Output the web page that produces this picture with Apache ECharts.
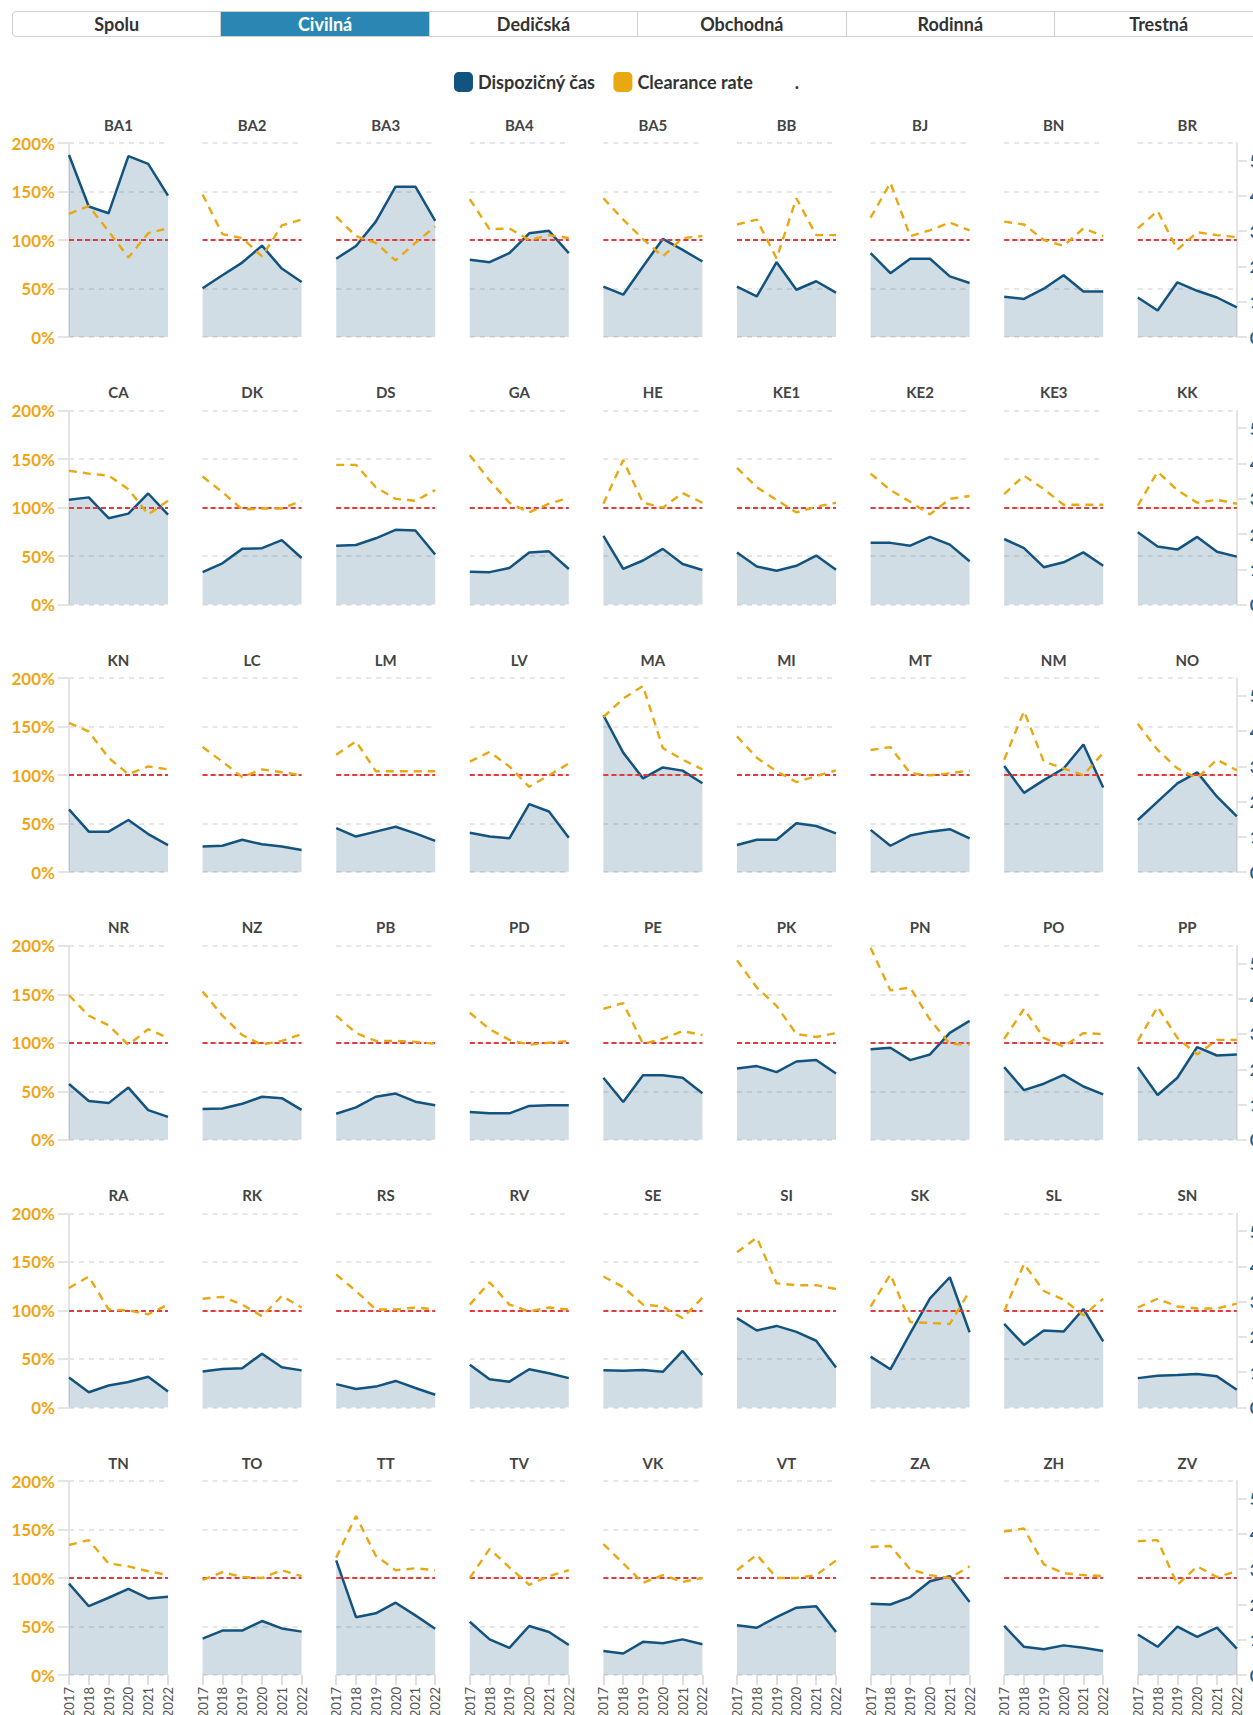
<!DOCTYPE html>
<html><head><meta charset="utf-8">
<script src="https://cdn.jsdelivr.net/npm/echarts@6/dist/echarts.min.js"></script>
<style>
html,body{margin:0;padding:0;background:#fff;overflow:hidden;width:1253px;height:1715px;}
#chart{position:absolute;left:0;top:0;width:1253px;height:1715px;}
#tabs{position:absolute;left:12px;top:11px;height:26px;display:flex;width:1260px;border:1px solid #cfcfcf;border-radius:4px;overflow:hidden;box-sizing:border-box;z-index:2;background:#fff;}
.tab{flex:0 0 auto;width:208.4px;box-sizing:border-box;text-align:center;font:bold 18px Lato,"Noto Sans",sans-serif;color:#333;line-height:24px;border-right:1px solid #cfcfcf;}
.tab.active{background:#2a87b4;color:#fff;}
</style></head>
<body>
<div id="tabs"></div>
<div id="chart"></div>
<script>
const tabs = ['Spolu','Civilná','Dedičská','Obchodná','Rodinná','Trestná'];
const activeTab = 'Civilná';
const years = ['2017','2018','2019','2020','2021','2022'];
const courts = ['BA1','BA2','BA3','BA4','BA5','BB','BJ','BN','BR',
 'CA','DK','DS','GA','HE','KE1','KE2','KE3','KK',
 'KN','LC','LM','LV','MA','MI','MT','NM','NO',
 'NR','NZ','PB','PD','PE','PK','PN','PO','PP',
 'RA','RK','RS','RV','SE','SI','SK','SL','SN',
 'TN','TO','TT','TV','VK','VT','ZA','ZH','ZV'];
// Dispozičný čas (days), one row per court, 2017..2022
const dispTime = [
 [516,370,351,513,491,401],[138,175,211,259,194,156],[222,258,327,426,426,329],[219,212,238,294,301,238],[143,120,200,278,247,214],
 [143,115,212,134,158,126],[238,181,222,222,172,153],[114,108,137,175,129,129],[112,75,155,131,112,84],
 [297,304,245,258,315,255],[92,117,158,160,183,132],[167,169,188,212,210,142],[93,92,104,148,151,101],[195,101,125,158,115,98],
 [148,108,96,110,139,99],[175,175,167,192,170,123],[186,160,106,120,148,110],[205,165,156,192,150,136],
 [178,115,115,148,108,77],[73,75,92,79,73,63],[125,101,115,129,110,89],[112,101,96,193,172,98],[445,339,266,297,288,252],
 [77,92,92,139,131,110],[120,75,104,115,122,96],[301,225,261,294,362,240],[148,200,252,283,214,158],
 [158,110,104,148,84,65],[87,89,102,122,118,85],[74,92,122,131,108,98],[79,75,75,96,98,98],[176,107,183,183,176,132],
 [202,209,192,222,226,188],[257,261,226,242,303,337],[206,141,159,184,151,129],[206,127,176,263,239,242],
 [85,43,62,72,87,45],[102,109,111,152,114,105],[66,52,59,75,55,36],[121,80,73,108,97,83],[105,104,106,101,160,92],
 [253,218,231,214,189,113],[144,108,210,309,369,213],[237,177,218,215,279,187],[83,90,92,95,88,50],
 [259,195,219,244,217,222],[103,126,126,153,132,123],[325,164,175,205,169,131],[151,101,77,139,122,85],[68,61,94,90,101,87],
 [141,134,164,191,195,122],[202,200,221,266,280,207],[139,80,73,84,77,68],[115,80,137,108,134,75]
];
// Clearance rate (%), one row per court, 2017..2022
const clearance = [
 [127,135,109,82,107,112],[147,106,102,83,115,121],[124,104,97,79,97,114],[142,111,112,100,105,102],[143,121,101,83,102,104],
 [116,121,81,143,105,105],[123,159,104,110,118,110],[119,116,100,94,112,104],[112,130,90,108,105,103],
 [138,135,133,119,93,107],[132,116,98,99,99,107],[144,144,121,109,107,118],[154,128,105,95,104,110],[104,149,105,100,115,105],
 [141,121,108,95,101,105],[135,118,106,93,109,112],[114,133,119,103,103,103],[102,137,118,105,108,104],
 [154,145,118,101,109,106],[129,114,98,106,103,100],[121,135,104,104,104,104],[114,124,109,88,100,112],[160,179,192,128,116,106],
 [140,118,104,93,99,105],[126,129,102,100,102,105],[116,166,114,107,100,123],[153,126,107,97,116,105],
 [149,128,118,98,114,105],[153,128,108,98,102,109],[128,110,102,102,101,99],[131,114,103,98,100,102],[135,141,99,104,112,108],
 [185,157,138,109,106,110],[198,154,157,124,99,98],[104,135,105,96,110,109],[102,137,105,88,103,103],
 [123,135,101,100,96,106],[112,114,106,94,115,103],[137,120,101,101,103,101],[106,129,106,99,103,101],[135,124,106,104,92,113],
 [160,175,128,126,126,122],[104,137,88,87,86,120],[99,148,120,111,95,112],[103,112,104,102,102,107],
 [134,139,115,112,107,103],[98,106,101,100,108,102],[121,164,123,108,110,108],[100,130,111,93,102,108],[135,115,95,103,96,100],
 [108,124,100,100,103,118],[132,133,109,103,100,112],[148,151,114,105,103,102],[138,139,93,112,101,107]
];
const leftTicks = [0,50,100,150,200];
const rightTicks = [0,100,200,300,400,500];
const referenceLevel = 100;

const FONT = 'Lato, "Noto Sans", sans-serif';
const BLUE = '#13537f', ORANGE = '#e8a812', RED = '#e23b3b';
const COLS = 9;

const tabsEl = document.getElementById('tabs');
tabs.forEach(t => {
  const d = document.createElement('div');
  d.className = 'tab' + (t === activeTab ? ' active' : '');
  d.textContent = t;
  tabsEl.appendChild(d);
});

const chart = echarts.init(document.getElementById('chart'), null, {renderer: 'svg'});
const grid = [], xAxis = [], yAxis = [], series = [], title = [];
courts.forEach((name, i) => {
  const r = Math.floor(i / COLS), c = i % COLS;
  const left = 69 + c * 133.6, top = 143 + r * 267.6;
  const bottomRow = r === Math.floor((courts.length - 1) / COLS);
  grid.push({left: left, top: top, width: 99, height: 194, containLabel: false, outerBoundsMode: 'none'});
  title.push({text: name, left: left + 49.5, top: top - 26, textAlign: 'center', padding: 0,
    textStyle: {fontSize: 15, fontWeight: 'bold', color: '#444', fontFamily: FONT}});
  xAxis.push({type: 'category', gridIndex: i, data: years, boundaryGap: false,
    axisLine: {show: false},
    axisTick: {show: bottomRow, length: 10, lineStyle: {color: '#dedede', width: 2}},
    axisLabel: {show: bottomRow, rotate: 90, margin: 12, color: '#555', fontSize: 13, fontFamily: FONT, interval: 0},
    splitLine: {show: false}});
  yAxis.push({type: 'value', gridIndex: i, min: 0, max: 200, interval: 50, position: 'left',
    axisLine: {show: c === 0, lineStyle: {color: '#e4e4e4', width: 2}},
    axisTick: {show: c === 0, length: 11, lineStyle: {color: '#e4e4e4', width: 2}, customValues: leftTicks},
    axisLabel: {show: c === 0, formatter: '{value}%', color: '#efa614', fontWeight: 'bold', fontSize: 17, margin: 14, fontFamily: FONT, customValues: leftTicks},
    splitLine: {show: true, lineStyle: {type: [5, 5], color: '#e6e6e6', width: 2}}});
  yAxis.push({type: 'value', gridIndex: i, min: 0, max: 550, interval: 100, position: 'right',
    axisLine: {show: c === COLS - 1, lineStyle: {color: '#e4e4e4', width: 2}},
    axisTick: {show: c === COLS - 1, length: 10, lineStyle: {color: '#e4e4e4', width: 2}, customValues: rightTicks},
    axisLabel: {show: c === COLS - 1, color: '#1f5f8b', fontWeight: 'bold', fontSize: 17, margin: 13, fontFamily: FONT, customValues: rightTicks},
    splitLine: {show: false}});
  series.push({type: 'line', name: 'Dispozičný čas', xAxisIndex: i, yAxisIndex: 2 * i + 1,
    data: dispTime[i], symbol: 'none', z: 2,
    itemStyle: {color: BLUE}, lineStyle: {color: BLUE, width: 2.5},
    areaStyle: {color: BLUE, opacity: 0.2}});
  series.push({type: 'line', name: 'Clearance rate', xAxisIndex: i, yAxisIndex: 2 * i,
    data: clearance[i], symbol: 'none', z: 4,
    itemStyle: {color: ORANGE}, lineStyle: {color: ORANGE, width: 2.4, type: [8, 6]},
    markLine: {silent: true, symbol: 'none', label: {show: false}, z: 3,
      lineStyle: {color: RED, width: 2, type: [5, 3]}, data: [{yAxis: referenceLevel}]}});
});
series.push({type: 'line', name: '.', xAxisIndex: 0, yAxisIndex: 0, data: [], symbol: 'none', itemStyle: {color: 'rgba(0,0,0,0)'}});

chart.setOption({
  animation: false,
  backgroundColor: '#fff',
  textStyle: {fontFamily: FONT},
  title: title,
  legend: {top: 72, left: 'center', padding: 0, icon: 'roundRect', itemWidth: 19, itemHeight: 20, itemGap: 18,
    selectedMode: false,
    textStyle: {fontSize: 18, fontWeight: 'bold', color: '#333', fontFamily: FONT},
    data: [{name: 'Dispozičný čas'}, {name: 'Clearance rate'}, {name: '.', itemStyle: {color: 'rgba(0,0,0,0)', opacity: 0}}]},
  grid: grid, xAxis: xAxis, yAxis: yAxis, series: series
});
</script>
</body></html>
